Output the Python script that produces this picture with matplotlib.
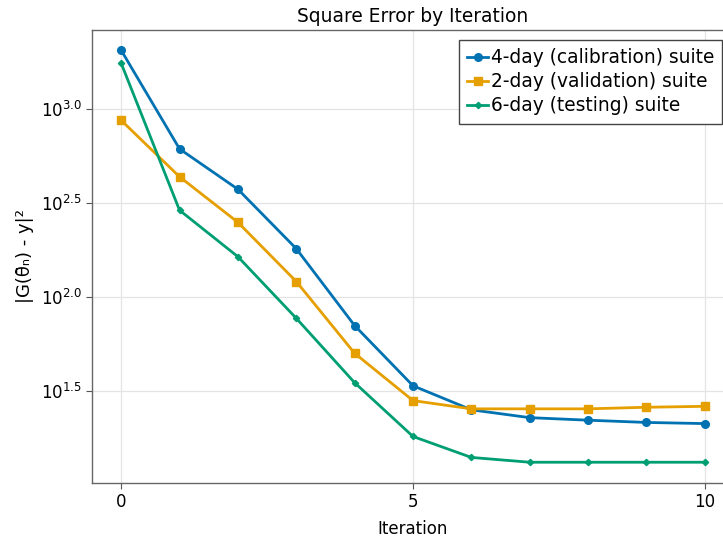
import matplotlib
matplotlib.use('Agg')
import matplotlib.pyplot as plt
import numpy as np

# values (square error per iteration)
iterations = list(range(11))
calib_4day = [2061, 615, 375, 181, 70.5, 33.7, 25.1, 22.8, 22.1, 21.5, 21.2]
valid_2day = [873, 437, 250, 121, 50.2, 28.1, 25.4, 25.4, 25.4, 25.9, 26.2]
test_6day = [1758, 290, 164, 77.1, 35.0, 18.1, 14.0, 13.2, 13.2, 13.2, 13.2]

labels = ['4-day (calibration) suite', '2-day (validation) suite', '6-day (testing) suite']
ytick_exps = [1.5, 2.0, 2.5, 3.0]
xticks = [0, 5, 10]

plt.rcParams['font.family'] = 'DejaVu Sans'
plt.rcParams['mathtext.fontset'] = 'dejavusans'

fig = plt.figure(figsize=(7.23, 5.42), dpi=100)
W, H = 723, 542
ax = fig.add_axes([92 / W, 1 - 483 / H, 642 / W, 453 / H])

ax.plot(iterations, calib_4day, color='#0072B2', lw=2.0, marker='o', ms=5.5, label=labels[0])
ax.plot(iterations, valid_2day, color='#E69F00', lw=2.0, marker='s', ms=5.5, label=labels[1])
ax.plot(iterations, test_6day, color='#009E73', lw=2.0, marker='D', ms=3.2, label=labels[2])

ax.set_yscale('log')
ax.set_ylim(10 ** 1.01, 10 ** 3.422)
ax.set_xlim(-0.5, 10.5)
ax.set_yticks([10 ** e for e in ytick_exps])
ax.set_yticklabels([r'$10^{%.1f}$' % e for e in ytick_exps])
ax.yaxis.set_minor_locator(matplotlib.ticker.NullLocator())
ax.set_xticks(xticks)
ax.tick_params(labelsize=12, length=4, width=0.8, color='#555555', direction='out')

ax.grid(True, color='#e4e4e4', lw=0.9)
ax.set_axisbelow(True)
for s in ax.spines.values():
    s.set_color('#666666')
    s.set_linewidth(1.0)
ax.spines['right'].set_visible(False)

ax.set_title('Square Error by Iteration', fontsize=13.4, pad=6)
ax.set_xlabel('Iteration', fontsize=12, labelpad=6)
ax.set_ylabel('|G(θ\u0304\u2099) - y|²', fontsize=13, labelpad=5)

leg = fig.legend(loc='upper left', bbox_to_anchor=(459 / W, 1 - 40 / H), fontsize=13.4,
                 frameon=True, fancybox=False, framealpha=1, edgecolor='#444444',
                 handlelength=1.1, handletextpad=0.15, labelspacing=0.27,
                 borderpad=0.45, borderaxespad=0)
leg.get_frame().set_linewidth(1.0)

fig.savefig('out.png', dpi=100)
